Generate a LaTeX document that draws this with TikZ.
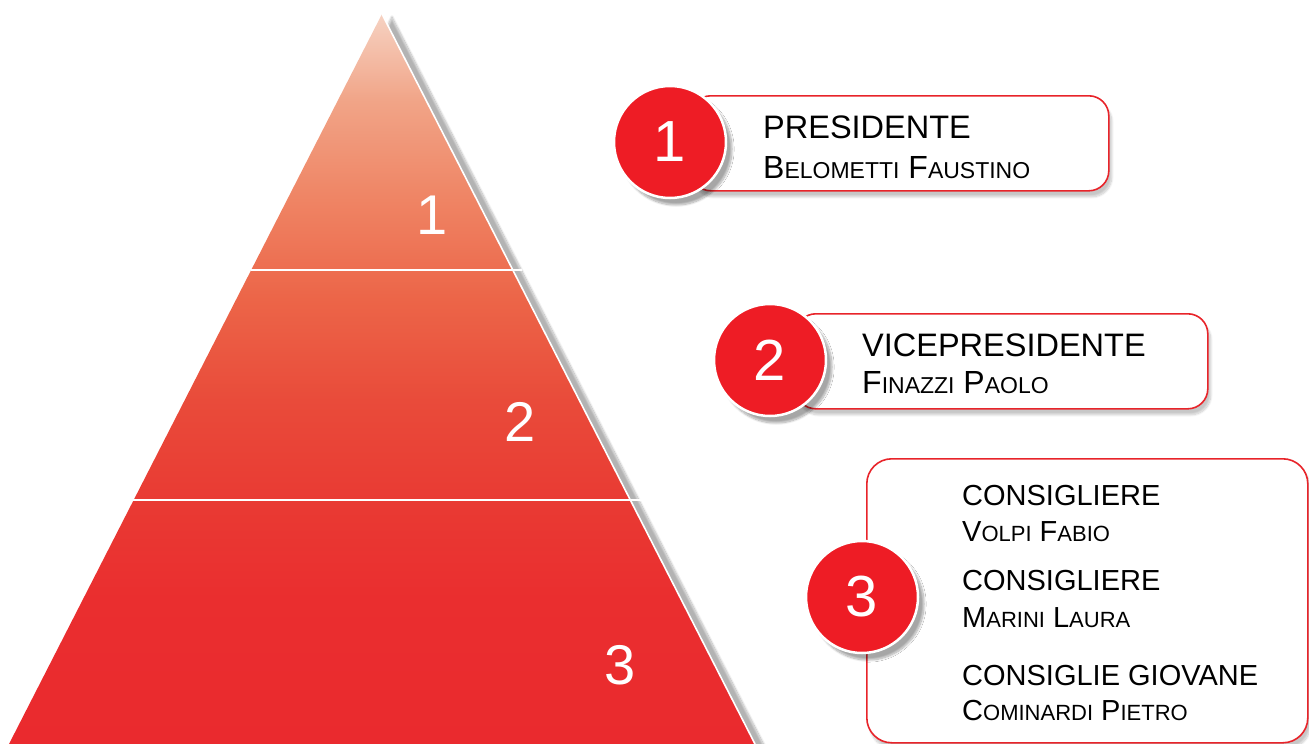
\documentclass[tikz,border=0pt]{standalone}
\usepackage{fontspec}
\setmainfont{Liberation Sans}
\usetikzlibrary{shadows.blur}
\definecolor{pred}{HTML}{EE1C25}
\definecolor{bred}{HTML}{E8242A}
\definecolor{c0}{HTML}{EA2A2E}
\definecolor{c1}{HTML}{EA2E2F}
\definecolor{c2}{HTML}{E93A33}
\definecolor{c3}{HTML}{E94B3A}
\definecolor{c4}{HTML}{EC6548}
\definecolor{c5}{HTML}{EF8565}
\definecolor{c6}{HTML}{F1A487}
\definecolor{c7}{HTML}{F6D2C2}
\pgfdeclareverticalshading{pyr}{100bp}{color(0bp)=(c0); color(25bp)=(c0); color(35bp)=(c1); color(41.5bp)=(c2); color(48.5bp)=(c3); color(55.5bp)=(c4); color(62.5bp)=(c5); color(69bp)=(c6); color(75bp)=(c7); color(100bp)=(c7)}
\newcommand\smc[1]{{\fontsize{23}{23}\selectfont #1}}
\newcommand\smcb[1]{{\fontsize{22}{22}\selectfont #1}}
\tikzset{
  numcirc/.style={circle, fill=pred, draw=white, line width=2.5pt, minimum size=112pt, inner sep=0pt, text=white, font=\fontsize{58}{58}\selectfont,
    blur shadow={shadow xshift=6pt, shadow yshift=-7pt, shadow blur steps=12, shadow opacity=35}},
  redbox/.style={rectangle, rounded corners=20pt, draw=bred, line width=1.6pt, fill=white, anchor=north west,
    blur shadow={shadow xshift=3pt, shadow yshift=-6pt, shadow blur steps=12, shadow opacity=22}},
  pnum/.style={text=white, font=\fontsize{56}{56}\selectfont},
  rolelab/.style={anchor=base west, inner sep=0pt, font=\fontsize{32.5}{32.5}\selectfont},
  namelab/.style={anchor=base west, inner sep=0pt, font=\fontsize{32}{32}\selectfont},
  rolelabb/.style={anchor=base west, inner sep=0pt, font=\fontsize{29}{29}\selectfont},
  namelabb/.style={anchor=base west, inner sep=0pt, font=\fontsize{29}{29}\selectfont},
}
\begin{document}
\begin{tikzpicture}[x=1pt,y=-1pt]
\useasboundingbox (0,0) rectangle (1309,744);
% pyramid
\coordinate (apex) at (382,14);
\coordinate (br) at (755,744);
\coordinate (bl) at (9,744);
\path[shading=pyr, blur shadow={shadow xshift=10pt, shadow yshift=-3pt, shadow blur steps=14, shadow opacity=30}]
  (apex) -- (br) -- (bl) -- cycle;
\draw[white, line width=1.6pt] (apex) -- (br);
\coordinate (l1) at (251,270); \coordinate (r1) at (522,270);
\coordinate (l2) at (133,500); \coordinate (r2) at (652,500);
\draw[white, line width=2pt] (l1) -- (r1);
\draw[white, line width=2pt] (l2) -- (r2);
\node[pnum] (p1) at (432,215) {1};
\node[pnum] (p2) at (520,422) {2};
\node[pnum] (p3) at (620,665) {3};
% box 1
\node[redbox, minimum width=418pt, minimum height=95pt] (b1) at (690,95) {};
\node[numcirc] (c1) at (670,142) {1};
\node[rolelab] (t1) at (763,138) {PRESIDENTE};
\node[namelab] (n1) at (763,178) {B\smc{ELOMETTI} F\smc{AUSTINO}};
% box 2
\node[redbox, minimum width=412pt, minimum height=95pt] (b2) at (795,313) {};
\node[numcirc] (c2) at (770,360) {2};
\node[rolelab] (t2) at (862,356) {VICEPRESIDENTE};
\node[namelab] (n2) at (862,393) {F\smc{INAZZI} P\smc{AOLO}};
% box 3
\node[redbox, rounded corners=25pt, minimum width=441pt, minimum height=284pt] (b3) at (866,458) {};
\node[numcirc] (c3) at (862,597) {3};
\node[rolelabb] (t3) at (962,505) {CONSIGLIERE};
\node[namelabb] (n3) at (962,541) {V\smcb{OLPI} F\smcb{ABIO}};
\node[rolelabb] (t4) at (962,590) {CONSIGLIERE};
\node[namelabb] (n4) at (962,627) {M\smcb{ARINI} L\smcb{AURA}};
\node[rolelabb] (t5) at (962,685) {CONSIGLIE GIOVANE};
\node[namelabb] (n5) at (962,720) {C\smcb{OMINARDI} P\smcb{IETRO}};
\end{tikzpicture}
\end{document}
